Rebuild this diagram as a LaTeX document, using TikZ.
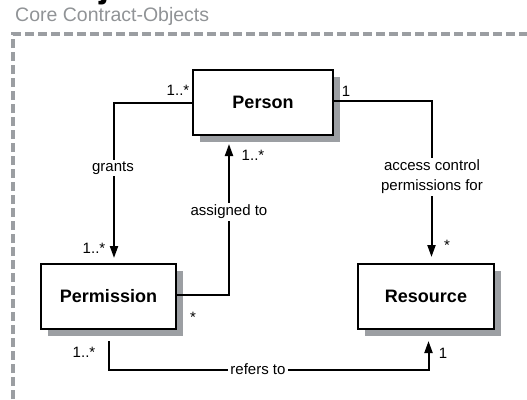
\documentclass[tikz,border=0pt]{standalone}
\usepackage{fontspec}
\setmainfont{Liberation Sans}
\usetikzlibrary{arrows.meta,shadows}
\definecolor{framegray}{HTML}{9B9EA2}
\definecolor{shadowgray}{HTML}{9C9FA3}
\definecolor{captiongray}{HTML}{909396}

\begin{document}
\begin{tikzpicture}[x=1pt,y=-1pt,
  classbox/.style={draw=black, line width=2pt, fill=white, inner sep=0pt,
    minimum height=65pt, font=\fontsize{18}{20}\selectfont\bfseries,
    drop shadow={shadow xshift=7pt, shadow yshift=-7pt, fill=shadowgray, opacity=1}},
  assoc/.style={line width=2pt},
  navarrow/.style={assoc, -{Triangle[width=8pt,length=12pt]}},
  edgelabel/.style={fill=white, inner sep=2pt, font=\fontsize{15}{20}\selectfont, align=center},
  mult/.style={inner sep=1pt, font=\fontsize{15}{17}\selectfont},
  frameline/.style={draw=framegray, line width=4pt, dash pattern=on 9pt off 4pt}
]
\useasboundingbox (0,0) rectangle (527,399);
\clip (0,0) rectangle (527,399);

% page heading, running off the top edge
\node[anchor=base east, inner sep=0pt, font=\fontsize{36}{40}\selectfont\bfseries] (heading) at (182,-3) {Contract Objects};

% package frame and its caption
\node[anchor=west, inner sep=0pt, text=captiongray, font=\fontsize{19.5}{22}\selectfont] (caption) at (15,16) {Core Contract-Objects};
\draw[frameline] (13,399) -- (13,34) -- (527,34);

% classes
\node[classbox, minimum width=140pt] (Person) at (263,102.5) {Person};
\node[classbox, minimum width=135pt] (Permission) at (108.5,296.5) {Permission};
\node[classbox, minimum width=136pt] (Resource) at (426,296.5) {Resource};

% associations
\draw[navarrow, shorten >=5pt] (Person.west) -| ([xshift=5.5pt]Permission.north);
\node[edgelabel] (grants) at (113,168) {grants};

\draw[navarrow, shorten >=8pt] ([yshift=1.5pt]Permission.east) -| ([xshift=-34pt]Person.south);
\node[edgelabel] (assigned) at (229,212) {assigned to};

\draw[navarrow, shorten >=6pt] ([yshift=1.5pt]Person.east) -| ([xshift=5.5pt]Resource.north);
\node[edgelabel] (access) at (432,177) {access control\\permissions for};

\draw[navarrow, shorten <=11pt, shorten >=11pt] (Permission.south) -- ++(0,40) -| ([xshift=2.5pt]Resource.south);
\node[edgelabel] (refers) at (258,369) {refers to};

% multiplicities
\node[mult] (mPersonGrants) at (178,90) {1..*};
\node[mult] (mPermGrants) at (94,248) {1..*};
\node[mult] (mPersonAssigned) at (253,155) {1..*};
\node[mult] (mPermAssigned) at (193,317) {*};
\node[mult] (mPersonAccess) at (346,91) {1};
\node[mult] (mResAccess) at (447,245) {*};
\node[mult] (mPermRefers) at (84,352) {1..*};
\node[mult] (mResRefers) at (443,353) {1};
\end{tikzpicture}
\end{document}
